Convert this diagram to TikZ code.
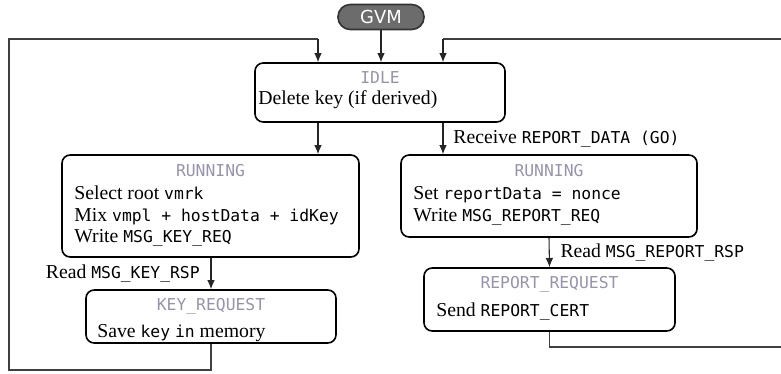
\documentclass[tikz,border=0pt]{standalone}
\usepackage{fontspec}
\setmainfont{Liberation Serif}
\setsansfont{DejaVu Sans}
\setmonofont[Scale=0.83]{DejaVu Sans Mono}
\usetikzlibrary{arrows.meta, positioning}
\usepackage{xcolor}

\definecolor{statename}{RGB}{150,148,172}
\definecolor{gvmfill}{RGB}{108,108,108}
\newlength\pxu
\setlength\pxu{0.0196cm}
\newcommand{\stname}[1]{\textcolor{statename}{\texttt{#1}}}

\begin{document}
\begin{tikzpicture}[
		x=\pxu, y=-\pxu,
		font=\fontsize{11}{12}\selectfont,
		state/.style={
			draw,
			line width=0.9pt,
			rounded corners=0.16cm,
			inner sep=0pt
		},
		title/.style={inner sep=0pt},
		body/.style={inner sep=0pt, anchor=west, align=left},
		flow/.style={draw=black!85, line width=0.6pt, -{Latex[length=1.8mm,width=1.5mm]}},
		back/.style={draw=black!75, line width=0.6pt}
		]
		\useasboundingbox (0,0) rectangle (781,373);
		
		% --- entry ---
		\node[draw=black!80, fill=gvmfill, line width=0.9pt, rounded corners=0.24cm,
			minimum width=86\pxu, minimum height=25\pxu, inner sep=0pt,
			text=white, font=\sffamily\fontsize{10}{12}\selectfont] (gvm) at (381,17) {GVM};
		
		% --- IDLE ---
		\node[state, minimum width=250\pxu, minimum height=59\pxu] (idle) at (380,92.5) {};
		\node[title] (idlename) at (380,78) {\stname{IDLE}};
		\node[body] (idlebody) at (258,100) {Delete key (if derived)};
		
		% --- RUNNING (key) ---
		\node[state, minimum width=297\pxu, minimum height=102\pxu] (runkey) at (210.5,206) {};
		\node[title] (runkeyname) at (210.5,171) {\stname{RUNNING}};
		\node[body] (runkeybody) at (74,216.5) {
			Select root \texttt{vmrk}\\
			Mix \texttt{vmpl + hostData + idKey}\\
			Write \texttt{MSG\_KEY\_REQ}
		};
		
		% --- KEY_REQUEST ---
		\node[state, minimum width=250\pxu, minimum height=53\pxu] (keyreq) at (211,316.5) {};
		\node[title] (keyreqname) at (211,306) {\stname{KEY\_REQUEST}};
		\node[body] (keyreqbody) at (97,333) {Save \texttt{key} \texttt{in} memory};
		
		% --- RUNNING (report) ---
		\node[state, minimum width=296\pxu, minimum height=82\pxu] (runrep) at (549,196) {};
		\node[title] (runrepname) at (549,171) {\stname{RUNNING}};
		\node[body] (runrepbody) at (413,206) {
			Set \texttt{reportData = nonce}\\
			Write \texttt{MSG\_REPORT\_REQ}
		};
		
		% --- REPORT_REQUEST ---
		\node[state, minimum width=251\pxu, minimum height=63\pxu] (repreq) at (549.5,299.5) {};
		\node[title] (repreqname) at (549.5,284) {\stname{REPORT\_REQUEST}};
		\node[body] (repreqbody) at (436,312) {Send \texttt{REPORT\_CERT}};
		
		% --- columns and loop corners ---
		\coordinate (lcol) at (318,0);
		\coordinate (rcol) at (443,0);
		\coordinate (looptop) at (0,39);
		\coordinate (loopleft) at (9,370);
		\coordinate (loopright) at (790,347);
		
		% --- transitions ---
		\draw[flow] (gvm.south) -- (gvm.south |- idle.north);
		\draw[flow] (lcol |- idle.south) -- (lcol |- runkey.north);
		\draw[flow] (rcol |- idle.south) -- (rcol |- runrep.north)
			node[body, pos=0.5, xshift=5.5pt] (recvlabel) {Receive \texttt{REPORT\_DATA (GO)}};
		\draw[flow] (keyreq.north |- runkey.south) -- (keyreq.north)
			node[body, anchor=east, pos=0.5, xshift=-6pt] (keylabel) {Read \texttt{MSG\_KEY\_RSP}};
		\draw[flow] (runrep.south) -- (repreq.north)
			node[body, pos=0.5, xshift=6pt] (replabel) {Read \texttt{MSG\_REPORT\_RSP}};
		
		% --- back to IDLE ---
		\draw[back] (keyreq.south) |- (loopleft) |- (lcol |- looptop);
		\draw[flow] (lcol |- looptop) -- (lcol |- idle.north);
		\draw[back] (repreq.south) |- (loopright) |- (rcol |- looptop);
		\draw[flow] (rcol |- looptop) -- (rcol |- idle.north);
		
	\end{tikzpicture}
\end{document}
